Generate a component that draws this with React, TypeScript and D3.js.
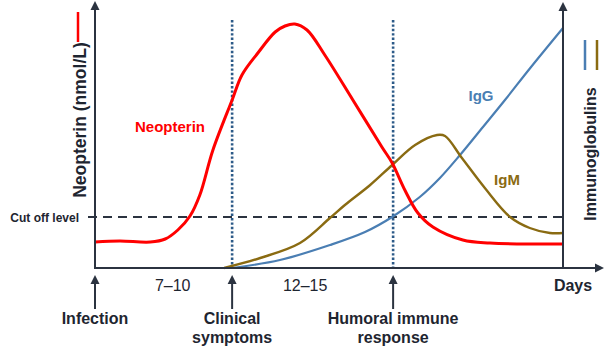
import React from "react";
import * as d3 from "d3";

// time runs 0..100 across the plot, levels 0..100 up the plot
const neopterin: [number, number][] = [
  [0, 10.4], [5.3, 10.8], [11.8, 10.4], [15, 11.6], [17.7, 15.2], [20.3, 20.8],
  [22.4, 29.2], [25.2, 47.2], [29.3, 67.2], [31.4, 77.2], [34.8, 86], [38.5, 94.4],
  [40.6, 96.8], [42.7, 97.6], [45.3, 95.2], [49.1, 85.2], [55.1, 67.2], [61.3, 48.4],
  [63.5, 42], [66.2, 31.2], [69, 22], [72.2, 16.4], [78.6, 11.2], [84.4, 10], [100, 9.6],
];
const igm: [number, number][] = [
  [27.6, 0], [35.3, 4], [43.8, 10], [50.2, 20], [53.4, 25.2], [58.8, 33.2],
  [63.5, 41.2], [68.4, 49.2], [73.1, 53.2], [74.8, 52.8], [78.4, 44], [83.3, 32],
  [88.7, 20.4], [92.9, 16], [97.2, 14], [100, 14],
];
const igg: [number, number][] = [
  [29.3, 0], [39.5, 3.2], [50.2, 9.2], [57.7, 14.4], [63.5, 20.4], [69.4, 28.4],
  [73.7, 36], [78, 45.2], [82.9, 56.4], [87.6, 67.2], [93, 80], [100, 96],
];
const cutOff = 20.4;
const events = [
  { t: 0, lines: ["Infection"] },
  { t: 29.3, lines: ["Clinical", "symptoms"] },
  { t: 63.7, lines: ["Humoral immune", "response"] },
];
const markers = [29.3, 63.7];
const intervals = [
  { t: 16.6, label: "7–10" },
  { t: 44.9, label: "12–15" },
];

const W = 607;
const H = 347;
const x = d3.scaleLinear().domain([0, 100]).range([95, 563]);
const y = d3.scaleLinear().domain([0, 100]).range([268, 18]);

const RED = "#ff0000";
const BLUE = "#4a7eb3";
const OLIVE = "#8a6b12";
const AXIS = "#2b3340";
const TEXT = "#1e2530";
const FONT = "'Liberation Sans', Arial, sans-serif";

const line = d3
  .line<[number, number]>()
  .x((d) => x(d[0]))
  .y((d) => y(d[1]))
  .curve(d3.curveCatmullRom.alpha(0.5));

function ArrowUp({ px, top }: { px: number; top: number }) {
  return <polygon points={`${px},${top} ${px - 4.5},${top + 9} ${px + 4.5},${top + 9}`} fill={AXIS} />;
}

export default function App() {
  const x0 = x(0);
  const x1 = x(100);
  const y0 = y(0);
  return (
    <svg width={W} height={H} style={{ position: "absolute", left: 0, top: 0, background: "#fff" }} fontFamily={FONT}>
      {/* cut-off level */}
      <line x1={88} x2={x1} y1={y(cutOff)} y2={y(cutOff)} stroke={AXIS} strokeWidth={2} strokeDasharray="9,6" />
      <text x={79} y={y(cutOff) + 4.5} textAnchor="end" fontSize={12} fontWeight="bold" fill={TEXT}>
        Cut off level
      </text>

      {/* event markers */}
      {markers.map((t) => (
        <line key={t} x1={x(t)} x2={x(t)} y1={20} y2={y0} stroke="#2c5a88" strokeWidth={2.6} strokeDasharray="2.4,2" />
      ))}

      {/* curves */}
      <path d={line(igg) ?? ""} fill="none" stroke={BLUE} strokeWidth={2.2} />
      <path d={line(igm) ?? ""} fill="none" stroke={OLIVE} strokeWidth={2.4} />
      <path d={line(neopterin) ?? ""} fill="none" stroke={RED} strokeWidth={3} />

      {/* axes */}
      <line x1={x0} x2={x0} y1={y0} y2={8} stroke={AXIS} strokeWidth={2} />
      <ArrowUp px={x0} top={1} />
      <line x1={x1} x2={x1} y1={y0} y2={9} stroke={AXIS} strokeWidth={2} />
      <ArrowUp px={x1} top={2} />
      <line x1={x0 - 1} x2={596} y1={y0} y2={y0} stroke={AXIS} strokeWidth={2} />
      <polygon points={`604,${y0} 595,${y0 - 4.5} 595,${y0 + 4.5}`} fill={AXIS} />

      {/* axis titles and legend strokes */}
      <text transform={`translate(86,120) rotate(-90)`} textAnchor="middle" fontSize={17.5} fontWeight="bold" fill={TEXT}>
        Neopterin (nmol/L)
      </text>
      <line x1={78} x2={78} y1={12} y2={42} stroke={RED} strokeWidth={2.5} />
      <text transform={`translate(596,154) rotate(-90)`} textAnchor="middle" fontSize={16} fontWeight="bold" fill={TEXT}>
        Immunoglobulins
      </text>
      <line x1={585} x2={585} y1={40} y2={70} stroke={BLUE} strokeWidth={2.5} />
      <line x1={597} x2={597} y1={40} y2={70} stroke={OLIVE} strokeWidth={2.5} />
      <text x={573} y={291} textAnchor="middle" fontSize={16} fontWeight="bold" fill={TEXT}>
        Days
      </text>

      {/* series labels */}
      <text x={170} y={132} textAnchor="middle" fontSize={15} fontWeight="bold" fill={RED}>
        Neopterin
      </text>
      <text x={481} y={101} textAnchor="middle" fontSize={15} fontWeight="bold" fill={BLUE}>
        IgG
      </text>
      <text x={507} y={185} textAnchor="middle" fontSize={15} fontWeight="bold" fill={OLIVE}>
        IgM
      </text>

      {/* intervals */}
      {intervals.map((d) => (
        <text key={d.label} x={x(d.t)} y={291} textAnchor="middle" fontSize={16} fill={TEXT}>
          {d.label}
        </text>
      ))}

      {/* events below the time axis */}
      {events.map((e) => (
        <g key={e.lines[0]}>
          <line x1={x(e.t)} x2={x(e.t)} y1={309} y2={282} stroke={AXIS} strokeWidth={2} />
          <ArrowUp px={x(e.t)} top={275} />
          {e.lines.map((l, i) => (
            <text key={l} x={x(e.t)} y={324 + i * 19} textAnchor="middle" fontSize={16} fontWeight="bold" fill={TEXT}>
              {l}
            </text>
          ))}
        </g>
      ))}
    </svg>
  );
}
